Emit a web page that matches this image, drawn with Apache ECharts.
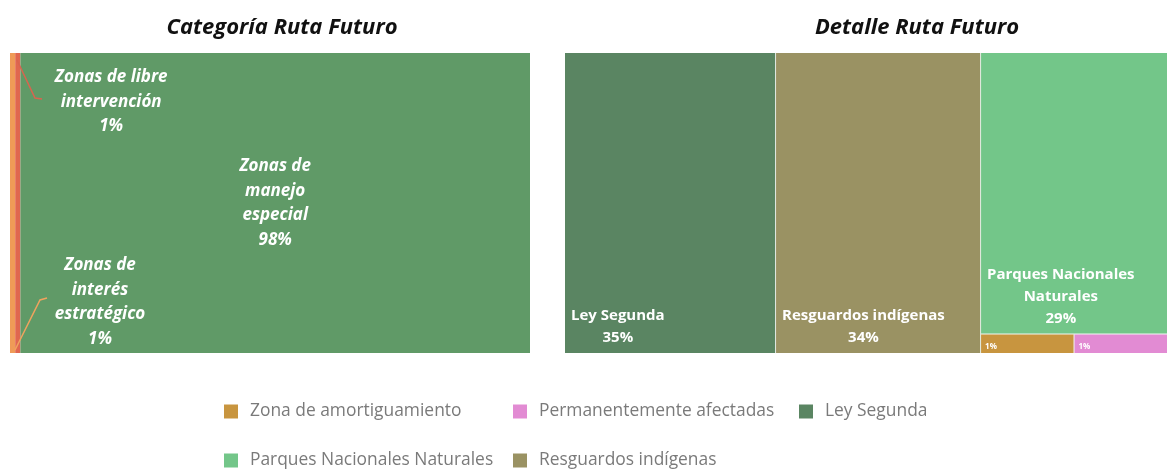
<!DOCTYPE html>
<html>
<head>
<meta charset="utf-8">
<script src="https://cdn.jsdelivr.net/npm/echarts@6/dist/echarts.min.js"></script>
<style>
  html, body { margin: 0; padding: 0; background: #ffffff; }
  #chart { width: 1167px; height: 475px; }
</style>
</head>
<body>
<div id="chart"></div>
<script>
// Category overview (percent of area)
const overviewNames = ['Zonas de interés estratégico', 'Zonas de libre intervención', 'Zonas de manejo especial'];
const overviewLabels = ['Zonas de\ninterés\nestratégico', 'Zonas de libre\nintervención', 'Zonas de\nmanejo\nespecial'];
const overviewValues = [1, 1, 98];

// Detail breakdown (percent of area)
const detailNames = ['Ley Segunda', 'Resguardos indígenas', 'Parques Nacionales Naturales', 'Permanentemente afectadas', 'Zona de amortiguamiento'];
const detailLabels = ['Ley Segunda', 'Resguardos indígenas', 'Parques Nacionales\nNaturales', '', ''];
const detailValues = [35, 34, 29, 1, 1];

// Legend columns
const legendColumns = [
  ['Zona de amortiguamiento', 'Parques Nacionales Naturales'],
  ['Permanentemente afectadas', 'Resguardos indígenas'],
  ['Ley Segunda']
];

const titles = ['Categoría Ruta Futuro', 'Detalle Ruta Futuro'];

// ---- styles ----
const FONT = '"Open Sans", "Noto Sans", sans-serif';
const DETAIL_LABEL_SIZE = 15;
const overviewColors = {
  'Zonas de interés estratégico': '#ef9b57',
  'Zonas de libre intervención': '#e0674f',
  'Zonas de manejo especial': '#609a67'
};
const detailColors = {
  'Ley Segunda': '#5a8562',
  'Resguardos indígenas': '#9a9263',
  'Parques Nacionales Naturales': '#73c689',
  'Zona de amortiguamiento': '#c8953f',
  'Permanentemente afectadas': '#e28bd3'
};
// label placement for the thin strips (offset from strip's left/top)
const stripLabelPos = {
  'Zonas de interés estratégico': [90, 200],
  'Zonas de libre intervención': [96, 12]
};

const overviewBox = { left: 10, top: 53, width: 520, height: 300 };
const detailBox = { left: 565, top: 53, width: 602, height: 300 };

// width of the widest line of a label, to centre the block near the cell's left edge
const measureCtx = document.createElement('canvas').getContext('2d');
function blockWidth(text, size) {
  measureCtx.font = 'bold ' + size + 'px ' + FONT;
  return Math.max.apply(null, text.split('\n').map(l => measureCtx.measureText(l).width));
}

const overviewData = overviewNames.map((name, i) => {
  const item = {
    name: name,
    value: overviewValues[i],
    itemStyle: { color: overviewColors[name] },
    label: {
      formatter: overviewLabels[i] + '\n' + overviewValues[i] + '%'
    }
  };
  if (stripLabelPos[name]) {
    item.label.position = stripLabelPos[name];
    item.label.align = 'center';
    item.label.verticalAlign = 'top';
    item.label.overflow = 'none';
  }
  return item;
});

const detailData = detailNames.map((name, i) => {
  const item = {
    name: name,
    value: detailValues[i],
    itemStyle: { color: detailColors[name] }
  };
  if (detailLabels[i]) {
    const text = detailLabels[i] + '\n' + detailValues[i] + '%';
    item.label = {
      formatter: text,
      position: [6 + blockWidth(text, DETAIL_LABEL_SIZE) / 2, '100%'],
      offset: [0, -4],
      align: 'center',
      verticalAlign: 'bottom',
      overflow: 'none'
    };
  } else {
    item.label = {
      formatter: detailValues[i] + '%',
      position: [4, 12],
      align: 'left',
      verticalAlign: 'middle',
      fontSize: 8,
      lineHeight: 10,
      fontWeight: 'bold',
      overflow: 'none'
    };
  }
  return item;
});

// empty series that only carry a name + colour for the legend
const legendSeries = detailNames.map(name => ({
  type: 'pie',
  name: name,
  data: [],
  radius: 0,
  showEmptyCircle: false,
  silent: true,
  itemStyle: { color: detailColors[name] }
}));

const legendLefts = [224, 513, 799];

const chart = echarts.init(document.getElementById('chart'), null, { renderer: 'canvas' });

// small leader lines from the thin strips to their labels
const ox = overviewBox.left, oy = overviewBox.top;
const leaders = [
  { pts: [[7, 7], [25, 45], [32, 46]], color: '#d9644f' },
  { pts: [[5, 297], [30, 247], [37, 245]], color: '#f0a35e' }
];

chart.setOption({
  backgroundColor: '#ffffff',
  animation: false,
  title: titles.map((t, i) => ({
    text: t,
    left: i === 0 ? 277 : 912,
    top: 12,
    textAlign: 'center',
    textStyle: {
      fontFamily: FONT,
      fontSize: 22,
      fontWeight: 'bold',
      fontStyle: 'italic',
      color: '#111111'
    }
  })),
  legend: legendColumns.map((col, i) => ({
    data: col,
    orient: 'vertical',
    left: legendLefts[i],
    top: 403,
    padding: 0,
    itemGap: 32,
    itemWidth: 14,
    itemHeight: 14,
    icon: 'rect',
    selectedMode: false,
    textStyle: {
      fontFamily: FONT,
      fontSize: 17.4,
      color: '#7a7a7a',
      padding: [0, 0, 0, 7]
    }
  })),
  graphic: leaders.map(l => ({
    type: 'polyline',
    silent: true,
    z: 100,
    shape: { points: l.pts.map(p => [ox + p[0], oy + p[1]]) },
    style: { stroke: l.color, lineWidth: 1.5, fill: null }
  })),
  series: [
    {
      type: 'treemap',
      left: overviewBox.left,
      top: overviewBox.top,
      width: overviewBox.width,
      height: overviewBox.height,
      roam: false,
      nodeClick: false,
      breadcrumb: { show: false },
      sort: 'asc',
      squareRatio: 0.001,
      levels: [{ itemStyle: { borderWidth: 0, gapWidth: 0 } }],
      itemStyle: { borderWidth: 0, gapWidth: 0 },
      label: {
        show: true,
        position: 'inside',
        padding: 0,
        distance: 0,
        color: '#ffffff',
        fontFamily: FONT,
        fontSize: 17,
        fontWeight: 'bold',
        fontStyle: 'italic',
        lineHeight: 24.5,
        align: 'center'
      },
      data: overviewData
    },
    {
      type: 'treemap',
      left: detailBox.left,
      top: detailBox.top,
      width: detailBox.width,
      height: detailBox.height,
      roam: false,
      nodeClick: false,
      breadcrumb: { show: false },
      squareRatio: 0.001,
      levels: [{ itemStyle: { borderWidth: 0, gapWidth: 1, borderColor: '#e4ece4' } }],
      itemStyle: { borderWidth: 0 },
      label: {
        show: true,
        padding: 0,
        distance: 0,
        color: '#ffffff',
        fontFamily: FONT,
        fontSize: DETAIL_LABEL_SIZE,
        fontWeight: 'bold',
        lineHeight: 22
      },
      data: detailData
    }
  ].concat(legendSeries)
});
</script>
</body>
</html>
